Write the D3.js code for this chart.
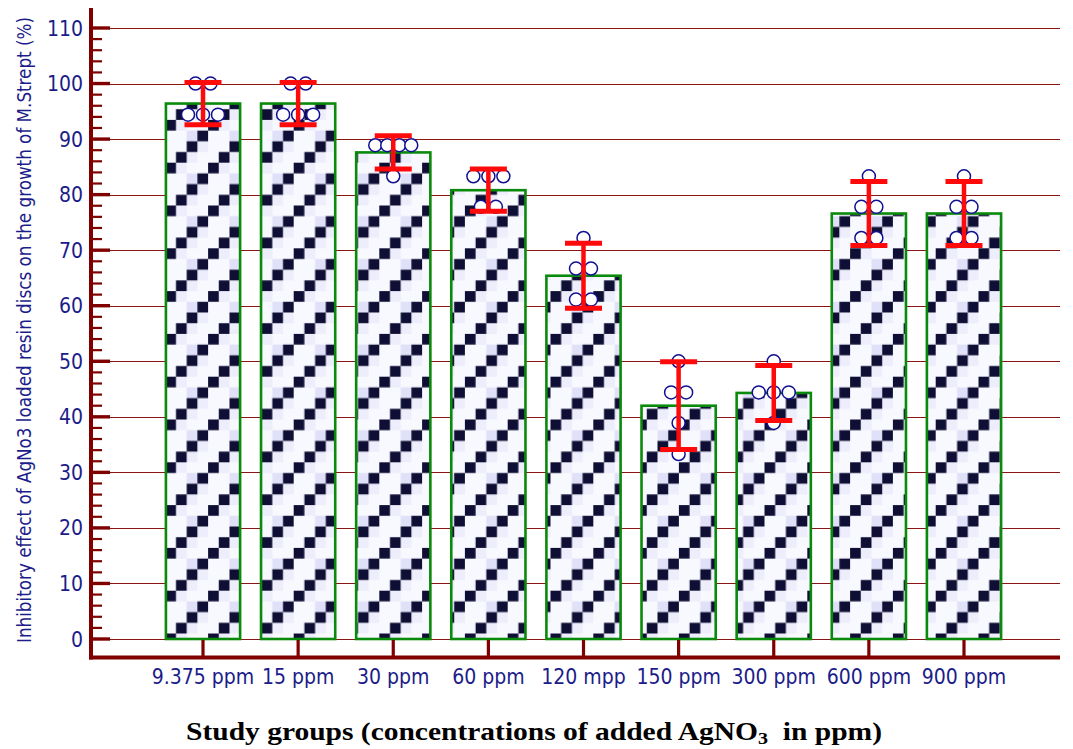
<!DOCTYPE html>
<html>
<head>
<meta charset="utf-8">
<script src="https://cdn.jsdelivr.net/npm/d3@7"></script>
<style>
  body { margin: 0; background: #fff; }
  svg { display: block; }
</style>
</head>
<body>
<div id="chart"></div>
<script>
const groups = ["9.375 ppm", "15 ppm", "30 ppm", "60 ppm", "120 mpp", "150 ppm", "300 ppm", "600 ppm", "900 ppm"];
const means = [96.4, 96.4, 87.6, 80.8, 65.4, 42.0, 44.3, 76.6, 76.6];
const sds = [3.8, 3.8, 3.0, 3.8, 5.85, 7.9, 4.95, 5.75, 5.75];
const points = [
  [100, 100, 94.4, 94.4, 94.4],
  [100, 100, 94.4, 94.4, 94.4],
  [88.9, 88.9, 88.9, 88.9, 83.3],
  [83.3, 83.3, 83.3, 77.8, 77.8],
  [72.2, 66.7, 66.7, 61.1, 61.1],
  [50, 44.4, 44.4, 38.9, 33.3],
  [50, 44.4, 44.4, 44.4, 38.9],
  [83.3, 77.8, 77.8, 72.2, 72.2],
  [83.3, 77.8, 77.8, 72.2, 72.2]
];
const yTicks = d3.range(0, 111, 10);
const yMinor = d3.range(0, 111, 2).filter(v => v % 10 !== 0);

const width = 1073, height = 749;
const axisRed = '#800000';
const navy = '#1c1c8a';
const narrow = '"Liberation Sans Narrow", "Arial Narrow", "DejaVu Sans Condensed", sans-serif';

const svg = d3.select('#chart').append('svg').attr('width', width).attr('height', height);

// checker pattern of the bars
const cell = 10.7;
const defs = svg.append('defs');
const pat = defs.append('pattern')
  .attr('id', 'checks')
  .attr('patternUnits', 'userSpaceOnUse')
  .attr('x', 165.3).attr('y', 419.5)
  .attr('width', cell * 4).attr('height', cell * 4);
pat.append('rect').attr('width', cell * 4).attr('height', cell * 4).attr('fill', '#f8f8ff');
[[1, 0], [2, 3], [3, 2]].forEach(([c, r]) => {
  pat.append('rect').attr('x', c * cell).attr('y', r * cell).attr('width', cell).attr('height', cell).attr('fill', '#ededfb');
});
pat.append('rect').attr('x', 2 * cell).attr('y', 1 * cell).attr('width', cell).attr('height', cell).attr('fill', '#e0e0f8');
[[0, 0], [3, 1], [2, 2], [1, 3]].forEach(([c, r]) => {
  pat.append('rect').attr('x', c * cell).attr('y', r * cell).attr('width', cell).attr('height', cell).attr('fill', '#0f0f35');
});

const x = d3.scaleBand()
  .domain(groups)
  .range([155.45, 1011.55])
  .paddingInner(0.22)
  .paddingOuter(0.11);
const y = d3.scaleLinear().domain([0, 110]).range([639, 28]);
const crisp = v => Math.round(v) + 0.5;

const axisX = 91, axisY = 657.5, rightEnd = 1060;

// gridlines
svg.append('g').selectAll('line').data(yTicks).join('line')
  .attr('x1', axisX).attr('x2', rightEnd)
  .attr('y1', d => crisp(y(d))).attr('y2', d => crisp(y(d)))
  .attr('stroke', '#8b1414').attr('stroke-width', 1);

// bars
svg.append('g').selectAll('rect').data(groups).join('rect')
  .attr('x', d => x(d))
  .attr('y', (d, i) => y(means[i]))
  .attr('width', x.bandwidth())
  .attr('height', (d, i) => y(0) - y(means[i]))
  .attr('fill', 'url(#checks)')
  .attr('stroke', '#0a8a0a')
  .attr('stroke-width', 2.6);

// individual points, spread sideways when equal
const dots = [];
points.forEach((vals, i) => {
  const cx = x(groups[i]) + x.bandwidth() / 2;
  const byVal = d3.group(vals, v => v);
  byVal.forEach((arr, v) => {
    const n = arr.length;
    const sp = n >= 4 ? 12 : 15;
    arr.forEach((_, j) => dots.push({ x: cx + (j - (n - 1) / 2) * sp, v }));
  });
});
svg.append('g').selectAll('circle').data(dots).join('circle')
  .attr('cx', d => d.x)
  .attr('cy', d => y(d.v))
  .attr('r', 6.5)
  .attr('fill', '#fff')
  .attr('stroke', '#101090')
  .attr('stroke-width', 1.5);

// error bars
const eb = svg.append('g').attr('stroke', '#ff0a0a');
groups.forEach((g, i) => {
  const cx = x(g) + x.bandwidth() / 2;
  const top = y(means[i] + sds[i]), bot = y(means[i] - sds[i]);
  eb.append('line').attr('x1', cx).attr('x2', cx).attr('y1', top).attr('y2', bot).attr('stroke-width', 4.5);
  eb.append('line').attr('x1', cx - 18.5).attr('x2', cx + 18.5).attr('y1', top).attr('y2', top).attr('stroke-width', 5);
  eb.append('line').attr('x1', cx - 18.5).attr('x2', cx + 18.5).attr('y1', bot).attr('y2', bot).attr('stroke-width', 5);
});

// y axis
const ya = svg.append('g').attr('stroke', axisRed);
ya.selectAll('.minor').data(yMinor).join('line')
  .attr('x1', axisX).attr('x2', 102)
  .attr('y1', d => y(d)).attr('y2', d => y(d))
  .attr('stroke-width', 2.2);
ya.selectAll('.major').data(yTicks).join('line')
  .attr('x1', axisX).attr('x2', 110)
  .attr('y1', d => y(d)).attr('y2', d => y(d))
  .attr('stroke-width', 3.4);
ya.append('line').attr('x1', axisX).attr('x2', axisX).attr('y1', 8).attr('y2', axisY + 2).attr('stroke-width', 4);

svg.append('g').selectAll('text').data(yTicks).join('text')
  .attr('x', 83).attr('y', d => y(d))
  .attr('dy', '0.36em')
  .attr('text-anchor', 'end')
  .attr('font-family', narrow)
  .attr('font-size', 21)
  .attr('fill', navy)
  .text(d => d);

// x axis
const xa = svg.append('g').attr('stroke', axisRed);
xa.selectAll('line').data(groups).join('line')
  .attr('x1', d => x(d) + x.bandwidth() / 2).attr('x2', d => x(d) + x.bandwidth() / 2)
  .attr('y1', 640).attr('y2', axisY)
  .attr('stroke-width', 3.2);
xa.append('line').attr('x1', axisX - 2).attr('x2', rightEnd).attr('y1', axisY).attr('y2', axisY).attr('stroke-width', 3.8);

svg.append('g').selectAll('text').data(groups).join('text')
  .attr('x', d => x(d) + x.bandwidth() / 2)
  .attr('y', 684)
  .attr('text-anchor', 'middle')
  .attr('font-family', narrow)
  .attr('font-size', 21)
  .attr('fill', navy)
  .text(d => d);

// axis titles
svg.append('text')
  .attr('transform', 'translate(31,330) rotate(-90)')
  .attr('text-anchor', 'middle')
  .attr('font-family', narrow)
  .attr('font-size', 19)
  .attr('fill', navy)
  .attr('textLength', 626)
  .attr('lengthAdjust', 'spacingAndGlyphs')
  .text('Inhibitory effect of AgNo3 loaded resin discs on the growth of M.Strept (%)');

const xt = svg.append('text')
  .attr('transform', 'translate(534,740) scale(1.18,1)')
  .attr('text-anchor', 'middle')
  .attr('font-family', '"Liberation Serif", "Times New Roman", serif')
  .attr('font-weight', 'bold')
  .attr('font-size', 25)
  .attr('fill', '#000');
xt.append('tspan').text('Study groups (concentrations of added AgNO');
xt.append('tspan').attr('font-size', 17).attr('dy', 4).text('3');
xt.append('tspan').attr('dy', -4).text('\u00a0 in ppm)');
</script>
</body>
</html>
